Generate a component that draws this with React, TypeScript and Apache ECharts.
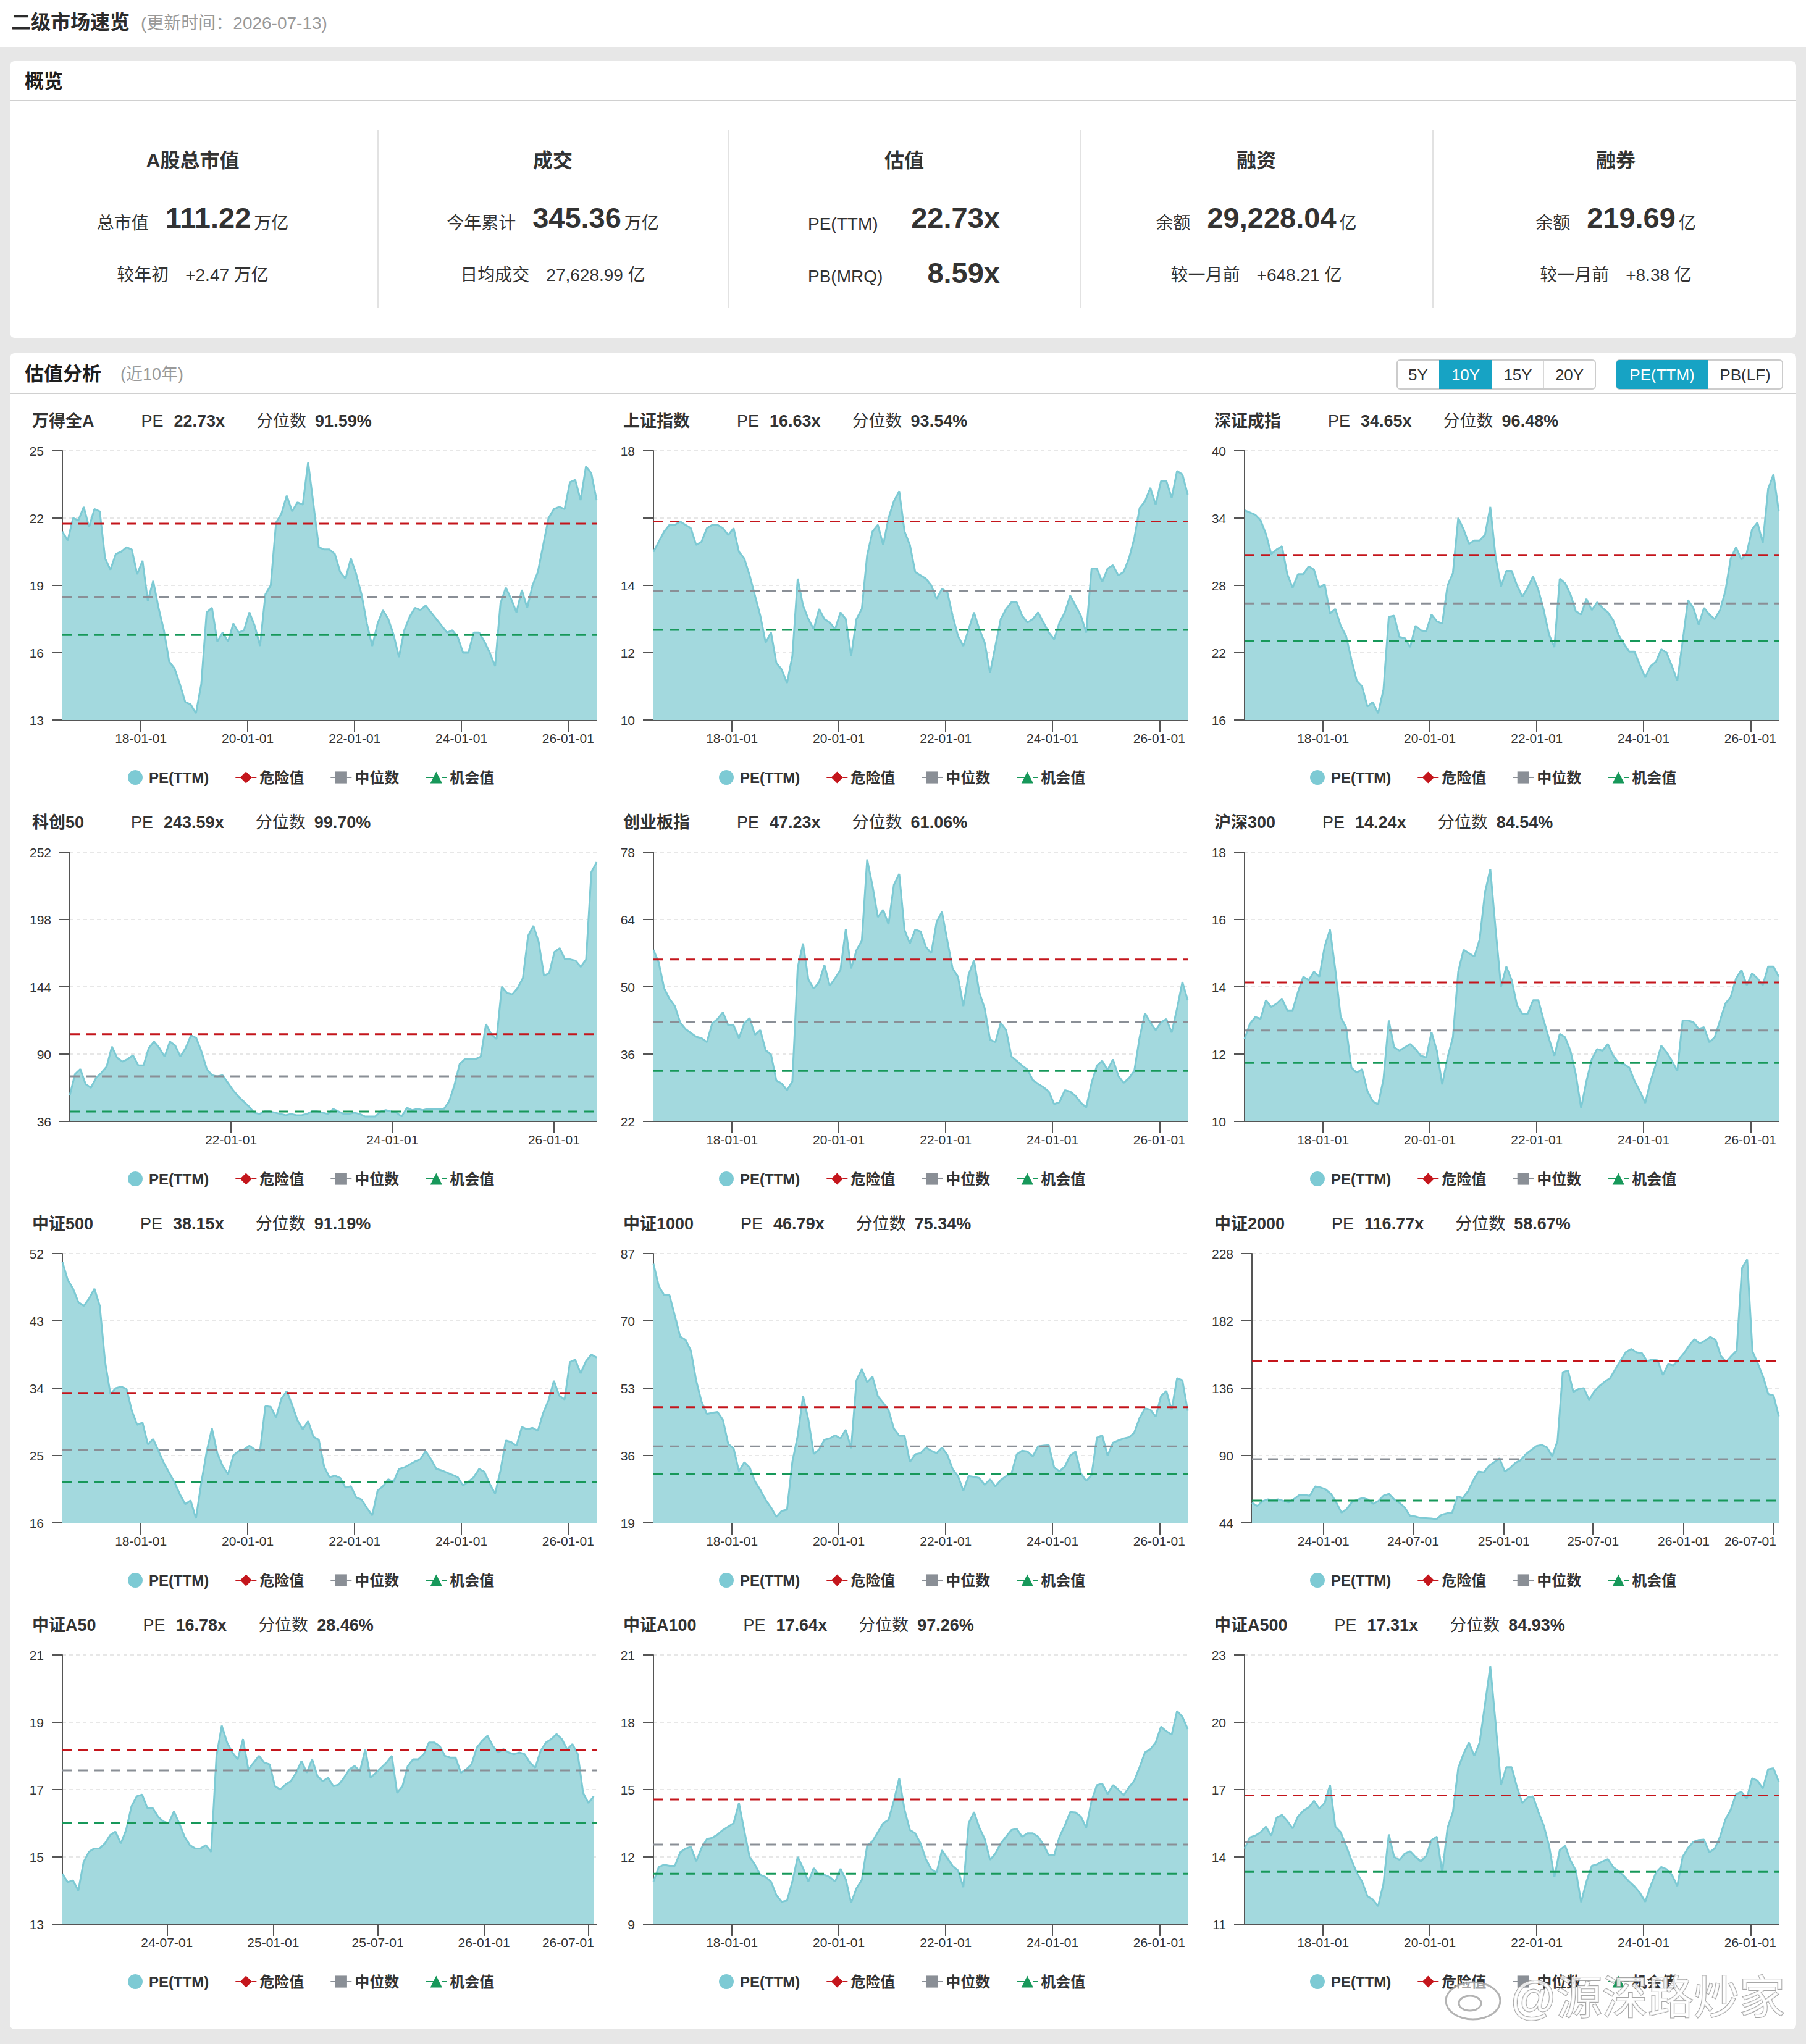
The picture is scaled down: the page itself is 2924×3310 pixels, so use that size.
import React, { useEffect, useRef } from 'react';
import * as echarts from 'echarts';

const W = 2924;
const H = 3310;
const FF = "'Liberation Sans', Arial, 'Noto Sans CJK SC', sans-serif";
const TEXT = '#333';
const TEAL = '#17a3c4';
const LINE_C = '#7dcad4';
const FILL_C = '#a3d9de';
const RED = '#c4161c';
const GRAY = '#8a8f96';
const GREEN = '#17985a';

// ---------- overview data ----------
const ovTitles = ['A股总市值', '成交', '估值', '融资', '融券'];
const ovLabels = ['总市值', '今年累计', '', '余额', '余额'];
const ovValues = ['111.22', '345.36', '', '29,228.04', '219.69'];
const ovUnits = ['万亿', '万亿', '', '亿', '亿'];
const ovSubLabels = ['较年初', '日均成交', '', '较一月前', '较一月前'];
const ovSubValues = ['+2.47 万亿', '27,628.99 亿', '', '+648.21 亿', '+8.38 亿'];
const valLabels = ['PE(TTM)', 'PB(MRQ)'];
const valValues = ['22.73x', '8.59x'];

// ---------- panels ----------
const panelNames = ['万得全A', '上证指数', '深证成指', '科创50', '创业板指', '沪深300', '中证500', '中证1000', '中证2000', '中证A50', '中证A100', '中证A500'];
const panelPE = ['22.73x', '16.63x', '34.65x', '243.59x', '47.23x', '14.24x', '38.15x', '46.79x', '116.77x', '16.78x', '17.64x', '17.31x'];
const panelPct = ['91.59%', '93.54%', '96.48%', '99.70%', '61.06%', '84.54%', '91.19%', '75.34%', '58.67%', '28.46%', '97.26%', '84.93%'];
const yMins = [13, 10, 16, 36, 22, 10, 16, 19, 44, 13, 9, 11];
const yMaxs = [25, 18, 40, 252, 78, 18, 52, 87, 228, 21, 21, 23];
const ySteps = [3, 2, 6, 54, 14, 2, 9, 17, 46, 2, 3, 3];
const dangerLines = [21.75, 15.9, 30.71, 106.0, 55.67, 14.13, 33.37, 48.2, 154.4, 18.17, 14.56, 16.74];
const medianLines = [18.49, 13.83, 26.39, 72.2, 42.65, 12.7, 25.75, 38.3, 87.5, 17.57, 12.55, 14.65];
const chanceLines = [16.79, 12.68, 23.02, 43.9, 32.5, 11.74, 21.5, 31.4, 59.2, 16.02, 11.25, 13.33];
const startDates = ['2016-07-13', '2016-07-13', '2016-07-13', '2020-01-02', '2016-07-13', '2016-07-13', '2016-07-13', '2016-07-13', '2023-08-09', '2024-01-02', '2016-07-13', '2016-07-13'];
const endDates = ['2026-07-13', '2026-07-13', '2026-07-13', '2026-07-13', '2026-07-13', '2026-07-13', '2026-07-13', '2026-07-13', '2026-07-13', '2026-07-10', '2026-07-13', '2026-07-13'];
const axisEndDates = ['2026-07-13', '2026-07-13', '2026-07-13', '2026-07-13', '2026-07-13', '2026-07-13', '2026-07-13', '2026-07-13', '2026-07-13', '2026-07-15', '2026-07-13', '2026-07-13'];
const ticks10 = ['2018-01-01', '2020-01-01', '2022-01-01', '2024-01-01', '2026-01-01'];
const ticksKc = ['2022-01-01', '2024-01-01', '2026-01-01'];
const ticks2000 = ['2024-01-01', '2024-07-01', '2025-01-01', '2025-07-01', '2026-01-01', '2026-07-01'];
const ticksA50 = ['2024-07-01', '2025-01-01', '2025-07-01', '2026-01-01', '2026-07-01'];
const tickSets = [ticks10, ticks10, ticks10, ticksKc, ticks10, ticks10, ticks10, ticks10, ticks2000, ticksA50, ticks10, ticks10];

const pe_wdqa = [21.4, 21.0, 22.0, 21.9, 22.5, 21.6, 22.4, 22.3, 20.2, 19.7,
  20.4, 20.5, 20.7, 20.6, 19.5, 20.1, 18.3, 19.2, 18.0, 17.0,
  15.6, 15.3, 14.6, 13.8, 13.7, 13.3, 14.6, 17.8, 18.0, 16.5,
  16.9, 16.5, 17.3, 16.9, 17.0, 17.8, 17.2, 16.3, 18.6, 19.0,
  21.8, 22.2, 23.0, 22.3, 22.7, 22.6, 24.5, 22.6, 20.7, 20.6,
  20.6, 20.4, 19.6, 19.3, 20.2, 19.5, 18.6, 17.3, 16.3, 17.3,
  17.9, 17.5, 16.8, 15.8, 17.0, 17.6, 18.0, 17.9, 18.1, 17.8,
  17.5, 17.2, 16.9, 17.0, 16.7, 16.0, 16.0, 16.9, 16.9, 16.5,
  16.0, 15.4, 18.2, 18.9, 18.4, 17.8, 18.8, 18.0, 19.0, 19.6,
  20.8, 22.0, 22.4, 22.5, 22.4, 23.6, 23.7, 22.8, 24.3, 24.0,
  22.8];
const pe_szzs = [15.0, 15.3, 15.6, 15.8, 15.8, 15.9, 15.8, 15.7, 15.2, 15.3,
  15.7, 15.8, 15.8, 15.7, 15.5, 15.7, 15.0, 14.8, 14.3, 13.7,
  13.1, 12.3, 12.6, 11.7, 11.5, 11.1, 11.9, 14.2, 13.4, 13.0,
  12.7, 13.3, 13.0, 12.9, 12.7, 13.2, 13.0, 11.9, 13.0, 13.3,
  14.9, 15.6, 15.8, 15.2, 16.0, 16.5, 16.8, 15.6, 15.2, 14.4,
  14.3, 14.2, 14.0, 13.6, 13.9, 13.8, 13.1, 12.5, 12.2, 12.7,
  13.2, 12.7, 12.3, 11.4, 12.2, 13.0, 13.3, 13.5, 13.5, 13.1,
  12.9, 13.0, 13.2, 12.9, 12.6, 12.4, 12.9, 13.2, 13.7, 13.4,
  13.1, 12.6, 14.5, 14.5, 14.1, 14.5, 14.6, 14.3, 14.4, 14.8,
  15.4, 16.3, 16.5, 16.9, 16.4, 17.1, 17.1, 16.6, 17.4, 17.3,
  16.7];
const pe_szcz = [34.7, 34.5, 34.3, 33.8, 32.6, 30.8, 31.2, 31.5, 29.0, 27.8,
  29.0, 29.0, 29.7, 29.4, 27.8, 28.1, 25.5, 25.9, 24.4, 23.5,
  21.4, 19.5, 19.0, 17.2, 17.6, 16.6, 18.7, 25.2, 25.3, 23.4,
  23.3, 22.5, 24.4, 24.0, 23.9, 25.4, 24.8, 24.6, 28.0, 29.1,
  34.0, 33.0, 31.7, 32.0, 32.0, 32.5, 35.0, 30.5, 27.9, 29.3,
  29.3, 28.0, 27.0, 27.8, 28.8, 27.6, 25.8, 23.6, 22.5, 28.6,
  28.2, 27.2, 25.7, 25.4, 26.8, 25.8, 26.5, 26.0, 25.6, 24.9,
  23.6, 22.8, 22.1, 22.1, 20.9, 19.8, 20.8, 21.2, 22.3, 22.0,
  20.8, 19.5, 23.0, 26.7, 26.0, 24.5, 26.0, 25.4, 25.0, 25.8,
  27.5, 30.4, 31.4, 30.3, 30.9, 33.0, 33.6, 31.8, 36.6, 37.9,
  34.6];
const pe_kc50 = [57, 74, 78, 66, 63, 71, 75, 80, 96, 87,
  84, 86, 89, 81, 81, 95, 100, 95, 88, 100,
  97, 88, 95, 105, 103, 92, 78, 73, 72, 73,
  67, 61, 56, 52, 48, 43, 42, 44, 44, 43,
  42, 41, 42, 41, 41, 42, 44, 44, 43, 42,
  46, 44, 42, 42, 43, 42, 40, 40, 40, 44,
  45, 44, 43, 40, 47, 45, 46, 45, 46, 46,
  46, 46, 52, 65, 82, 86, 86, 86, 88, 114,
  106, 102, 144, 139, 138, 143, 151, 185, 193, 180,
  153, 155, 172, 175, 166, 166, 165, 160, 166, 236,
  244];
const pe_cybz = [57.7, 55.0, 49.7, 47.5, 46.0, 42.6, 41.2, 40.4, 39.6, 39.3,
  38.5, 42.4, 43.3, 44.7, 42.0, 42.0, 39.3, 42.4, 43.5, 40.0,
  41.0, 36.8, 35.9, 30.5, 29.9, 28.5, 30.3, 54.0, 59.0, 51.5,
  49.6, 51.0, 54.5, 50.2, 51.8, 53.5, 62.0, 53.8, 57.6, 59.6,
  76.5, 71.0, 64.5, 66.0, 63.0, 71.2, 73.5, 61.8, 59.0, 61.9,
  61.5, 58.3, 57.0, 63.5, 65.6, 59.6, 53.8, 52.1, 46.0, 52.6,
  55.5, 48.8, 45.5, 39.0, 38.5, 42.5, 41.0, 35.5, 34.6, 33.6,
  32.8, 30.6, 29.8, 29.1, 28.2, 25.6, 26.0, 28.5, 28.2, 27.3,
  25.9, 24.9, 30.0, 33.6, 34.6, 32.7, 34.9, 31.5, 30.0, 31.0,
  32.5, 39.5, 44.5, 42.6, 41.0, 42.6, 43.3, 40.5, 45.5, 51.0,
  47.2];
const pe_hs300 = [12.45, 12.9, 13.1, 13.05, 13.6, 13.4, 13.5, 13.65, 13.3, 13.3,
  13.85, 14.3, 14.2, 14.45, 14.3, 15.2, 15.7, 14.5, 13.1, 12.8,
  11.6, 11.45, 11.55, 10.9, 10.6, 10.5, 11.25, 13.0, 12.2, 12.1,
  12.2, 12.3, 12.15, 11.95, 11.9, 12.65, 12.1, 11.1, 11.9, 12.5,
  14.45, 15.1, 15.0, 14.9, 15.4, 16.8, 17.5, 15.7, 14.0, 14.6,
  14.2, 13.45, 13.2, 13.2, 13.6, 13.6, 13.0, 12.45, 11.95, 12.6,
  12.5, 12.1, 11.4, 10.4, 11.2, 11.85, 12.15, 12.1, 12.3, 11.95,
  11.75, 11.7, 11.6, 11.2, 10.9, 10.55, 11.2, 11.7, 12.25, 12.05,
  11.8, 11.5, 13.0, 13.0, 12.95, 12.75, 12.8, 12.35, 12.5, 13.0,
  13.5, 13.7, 14.25, 14.5, 14.05, 14.4, 14.25, 14.05, 14.6, 14.6,
  14.3];
const pe_zz500 = [50.9, 48.5, 47.3, 45.5, 45.0, 46.0, 47.3, 45.0, 37.5, 33.2,
  34.0, 34.2, 33.9, 31.0, 29.1, 29.4, 26.5, 27.2, 25.6, 24.0,
  22.7, 21.4, 19.8, 18.5, 19.0, 16.6, 21.3, 25.5, 28.6, 25.3,
  23.6, 22.5, 25.0, 25.6, 25.8, 26.3, 25.8, 25.6, 31.6, 31.5,
  30.1, 32.6, 33.6, 31.8, 29.7, 28.5, 29.6, 27.5, 27.1, 23.5,
  22.1, 22.3, 22.0, 20.7, 20.9, 19.4, 19.1, 18.0, 17.0, 20.3,
  20.9, 21.8, 21.5, 23.2, 23.4, 23.8, 24.2, 24.5, 25.6, 24.5,
  23.2, 23.0, 22.7, 22.4, 22.1, 21.0, 21.5, 22.1, 23.2, 22.8,
  21.2, 19.9, 23.0, 27.0, 26.8, 26.3, 28.8, 28.5, 28.7, 28.3,
  30.7, 32.4, 35.0, 33.0, 32.5, 37.5, 37.8, 36.0, 37.6, 38.5,
  38.1];
const pe_zz1000 = [84.4, 78.8, 76.5, 76.5, 71.3, 66.0, 65.2, 62.5, 54.9, 49.6,
  46.5, 46.8, 47.0, 45.0, 38.9, 37.8, 32.0, 34.3, 33.0, 29.5,
  27.3, 24.8, 22.9, 20.5, 22.0, 22.3, 34.4, 41.0, 51.0, 45.0,
  36.4, 37.5, 40.0, 40.3, 41.1, 40.3, 42.5, 37.8, 55.0, 57.8,
  54.5, 55.9, 51.0, 49.3, 47.5, 42.8, 41.0, 41.0, 34.4, 36.3,
  36.6, 38.0, 37.2, 36.6, 38.0, 36.2, 32.6, 30.8, 27.1, 30.8,
  30.6, 30.3, 28.6, 30.0, 28.2, 29.8, 30.8, 31.4, 36.3, 37.2,
  37.0, 35.8, 38.3, 38.5, 38.6, 33.0, 32.0, 33.2, 36.0, 37.0,
  31.5, 29.6, 31.0, 40.5, 41.1, 36.0, 39.2, 39.8, 40.3, 40.6,
  41.8, 45.5, 47.9, 47.6, 45.8, 51.0, 52.3, 47.5, 55.5, 55.0,
  47.3];
const pe_zz2000 = [57.7, 55.5, 58.8, 60.0, 59.5, 60.0, 59.0, 58.0, 60.3, 63.0,
  63.0, 62.5, 68.9, 68.2, 66.8, 63.8, 58.0, 50.9, 53.5, 58.3,
  59.8, 61.0, 60.0, 57.0, 59.0, 62.6, 63.8, 60.0, 57.7, 54.5,
  48.8, 48.3, 47.3, 47.2, 47.0, 46.4, 49.5, 50.5, 51.0, 62.0,
  61.0, 65.5, 73.0, 79.0, 78.5, 83.0, 85.5, 88.0, 79.0, 81.5,
  85.0, 86.8, 91.0, 93.7, 96.5, 97.2, 95.5, 89.5, 100.0, 147.0,
  148.0, 133.4, 135.5, 136.0, 128.0, 134.0, 137.6, 140.5, 143.0, 149.2,
  155.0, 160.8, 162.8, 160.5, 160.0, 154.5, 155.5, 155.0, 145.0, 152.4,
  151.5, 155.6, 160.0, 165.2, 169.5, 166.5, 168.5, 171.0, 169.0, 158.0,
  154.0, 158.0, 161.7, 218.0, 224.0, 161.2, 153.0, 144.0, 132.0, 131.0,
  116.8];
const pe_a50 = [14.5, 14.25, 14.3, 14.0, 14.85, 15.15, 15.25, 15.25, 15.4, 15.65,
  15.75, 15.4, 15.8, 16.5, 16.8, 16.85, 16.45, 16.45, 16.2, 16.05,
  16.0, 16.35, 16.0, 15.6, 15.35, 15.25, 15.25, 15.35, 15.15, 18.0,
  18.9, 18.4, 18.1, 17.9, 18.5, 17.6, 17.8, 18.0, 17.8, 17.75,
  17.1, 17.0, 17.15, 17.25, 17.5, 17.85, 17.5, 17.9, 17.4, 17.25,
  17.35, 17.1, 17.15, 17.35, 17.6, 17.7, 17.55, 18.2, 17.35, 17.5,
  17.65, 17.8, 18.0, 16.9, 17.1, 17.7, 17.9, 17.9, 18.05, 18.4,
  18.4, 18.3, 18.0, 17.95, 17.95, 17.5, 17.6, 17.75, 18.25, 18.45,
  18.6, 18.3, 18.1, 18.2, 18.1, 18.05, 18.1, 18.05, 17.8, 17.65,
  18.15, 18.4, 18.5, 18.65, 18.5, 18.2, 18.35, 18.05, 16.9, 16.6,
  16.8];
const pe_a100 = [10.9, 11.55, 11.65, 11.6, 11.6, 12.2, 12.37, 12.45, 11.8, 12.4,
  12.8, 12.85, 13.0, 13.2, 13.35, 13.5, 14.4, 13.17, 12.0, 11.65,
  11.2, 11.1, 10.9, 10.3, 10.0, 10.05, 10.9, 12.0, 11.5, 10.9,
  11.5, 11.2, 11.2, 11.1, 10.9, 11.47, 11.0, 9.95, 10.6, 10.97,
  12.5, 12.7, 13.1, 13.5, 13.65, 14.5, 15.5, 14.1, 13.2, 13.05,
  12.6, 11.9, 11.45, 11.3, 12.3, 11.95, 11.6, 11.4, 10.65, 13.5,
  14.0, 13.3, 12.8, 11.87, 12.15, 12.6, 12.9, 13.2, 13.25, 12.9,
  13.05, 13.05, 12.9, 12.55, 12.07, 12.07, 12.9, 13.4, 14.0, 13.98,
  13.8, 13.3, 14.5, 15.2, 15.26, 14.8, 15.2, 15.0, 14.75, 15.1,
  15.4, 16.0, 16.66, 16.8, 17.1, 17.8, 17.6, 17.45, 18.5, 18.25,
  17.7];
const pe_a500 = [14.37, 14.87, 14.95, 15.1, 15.35, 14.95, 15.75, 15.87, 15.6, 15.27,
  15.8, 16.06, 16.2, 16.5, 16.16, 16.4, 17.2, 15.35, 15.1, 14.5,
  13.87, 13.3, 12.9, 12.25, 12.1, 11.8, 12.8, 15.0, 14.0, 13.87,
  14.15, 14.25, 14.0, 13.8, 14.05, 14.75, 14.9, 13.3, 15.3, 16.0,
  17.96, 18.6, 19.1, 18.5, 19.1, 20.8, 22.5, 19.95, 17.2, 18.0,
  18.0, 17.1, 16.4, 16.65, 16.7, 16.0, 15.4, 14.5, 13.1, 14.3,
  14.5, 13.85, 13.4, 11.98, 12.9, 13.6, 13.67, 13.8, 13.9, 13.55,
  13.37, 13.15, 12.9, 12.68, 12.4, 12.0, 12.7, 13.3, 13.55, 13.45,
  13.2, 12.7, 14.0, 14.4, 14.67, 14.75, 14.77, 14.2, 14.37, 14.9,
  15.67, 16.1, 16.8, 16.9, 16.6, 17.5, 17.4, 17.05, 17.9, 17.95,
  17.35];
const seriesValues = [pe_wdqa, pe_szzs, pe_szcz, pe_kc50, pe_cybz, pe_hs300, pe_zz500, pe_zz1000, pe_zz2000, pe_a50, pe_a100, pe_a500];

const legendNames = ['PE(TTM)', '危险值', '中位数', '机会值'];
const btnPeriods = ['5Y', '10Y', '15Y', '20Y'];
const btnMetrics = ['PE(TTM)', 'PB(LF)'];

const ts = (s: string) => Date.parse(s + 'T00:00:00Z');
const pad2 = (n: number) => String(n).padStart(2, '0');
const fmtDate = (v: number) => {
  const d = new Date(v);
  return `${pad2(d.getUTCFullYear() % 100)}-${pad2(d.getUTCMonth() + 1)}-${pad2(d.getUTCDate())}`;
};

function buildOption(): any {
  const graphic: any[] = [];
  const grid: any[] = [];
  const xAxis: any[] = [];
  const yAxis: any[] = [];
  const series: any[] = [];
  const legend: any[] = [];

  const bg = (x: number, y: number, w: number, h: number, r: number) => ({
    type: 'rect', z: -10, silent: true, shape: { x, y, width: w, height: h, r }, style: { fill: '#fff' },
  });
  const txt = (x: number, y: number, text: string, extra: any) => ({
    type: 'text', z: 10, silent: true, x, y,
    style: Object.assign({ text, fontFamily: FF, fill: TEXT, verticalAlign: 'middle', align: 'left' }, extra),
  });
  const hline = (x1: number, x2: number, y: number, color: string, w: number) => ({
    type: 'line', z: 5, silent: true, shape: { x1, y1: y, x2, y2: y }, style: { stroke: color, lineWidth: w },
  });
  const vline = (x: number, y1: number, y2: number, color: string, w: number) => ({
    type: 'line', z: 5, silent: true, shape: { x1: x, y1, x2: x, y2 }, style: { stroke: color, lineWidth: w },
  });

  // backgrounds
  graphic.push(bg(0, 0, W, 76, 0));
  graphic.push(bg(16, 99, 2892, 448, 8));
  graphic.push(bg(16, 572, 2892, 2714, 8));

  // page header
  graphic.push(txt(18, 36, '二级市场速览', { fontSize: 32, fontWeight: 'bold', fill: '#2b2b2b' }));
  graphic.push(txt(228, 37, '(更新时间：2026-07-13)', { fontSize: 28, fill: '#999' }));

  // overview card
  graphic.push(txt(40, 131, '概览', { fontSize: 31, fontWeight: 'bold', fill: '#1e1e1e' }));
  graphic.push(hline(16, 2908, 163, '#d0d0d0', 2));
  [612, 1180, 1750, 2320].forEach((x) => graphic.push(vline(x, 211, 498, '#e2e2e2', 2)));
  const ovCenters = [312, 895, 1464, 2034, 2616];
  const ovRich: any = {
    l: { fontSize: 28, fill: TEXT, fontFamily: FF, padding: [0, 27, 0, 0], verticalAlign: 'bottom' },
    v: { fontSize: 47, fontWeight: 'bold', fill: TEXT, fontFamily: FF, padding: [0, 5, 0, 0], verticalAlign: 'bottom' },
    u: { fontSize: 28, fill: TEXT, fontFamily: FF, verticalAlign: 'bottom' },
    s: { fontSize: 28, fill: TEXT, fontFamily: FF, verticalAlign: 'bottom' },
  };
  ovTitles.forEach((t, i) => {
    const cx = ovCenters[i];
    graphic.push(txt(cx, 260, t, { fontSize: 32, fontWeight: 'bold', align: 'center' }));
    if (ovValues[i]) {
      graphic.push(txt(cx, 352, `{l|${ovLabels[i]}}{v|${ovValues[i]}}{u|${ovUnits[i]}}`, { align: 'center', rich: ovRich }));
      graphic.push(txt(cx, 445, `{l|${ovSubLabels[i]}}{s|${ovSubValues[i]}}`, { align: 'center', rich: ovRich }));
    }
  });
  graphic.push(txt(1308, 362, valLabels[0], { fontSize: 28 }));
  graphic.push(txt(1619, 352, valValues[0], { fontSize: 47, fontWeight: 'bold', align: 'right' }));
  graphic.push(txt(1308, 447, valLabels[1], { fontSize: 28 }));
  graphic.push(txt(1619, 441, valValues[1], { fontSize: 47, fontWeight: 'bold', align: 'right' }));

  // valuation card header
  graphic.push(txt(40, 605, '估值分析', { fontSize: 31, fontWeight: 'bold', fill: '#1e1e1e' }));
  graphic.push(txt(195, 606, '(近10年)', { fontSize: 27, fill: '#999' }));
  graphic.push(hline(16, 2908, 637, '#d0d0d0', 2));

  // buttons
  const b1 = [2262, 2330, 2416, 2499, 2583];
  graphic.push({ type: 'rect', z: 6, silent: true, shape: { x: b1[0], y: 583, width: b1[4] - b1[0], height: 47, r: 5 }, style: { fill: '#fff', stroke: '#cccccc', lineWidth: 2 } });
  graphic.push({ type: 'rect', z: 7, silent: true, shape: { x: b1[1], y: 583, width: b1[2] - b1[1], height: 47 }, style: { fill: TEAL } });
  graphic.push({ type: 'line', z: 7, silent: true, shape: { x1: b1[3], y1: 584, x2: b1[3], y2: 629 }, style: { stroke: '#d8d8d8', lineWidth: 2 } });
  btnPeriods.forEach((b, i) => {
    graphic.push(txt((b1[i] + b1[i + 1]) / 2, 607, b, { fontSize: 26, align: 'center', fill: i === 1 ? '#fff' : TEXT }));
  });
  const b2 = [2617, 2765, 2886];
  graphic.push({ type: 'rect', z: 6, silent: true, shape: { x: b2[0], y: 583, width: b2[2] - b2[0], height: 47, r: 5 }, style: { fill: '#fff', stroke: '#cccccc', lineWidth: 2 } });
  graphic.push({ type: 'rect', z: 7, silent: true, shape: { x: b2[0], y: 583, width: b2[1] - b2[0], height: 47, r: [5, 0, 0, 5] }, style: { fill: TEAL } });
  btnMetrics.forEach((b, i) => {
    graphic.push(txt((b2[i] + b2[i + 1]) / 2, 607, b, { fontSize: 26, align: 'center', fill: i === 0 ? '#fff' : TEXT }));
  });

  const titleRich: any = {
    n: { fontSize: 27, fontWeight: 'bold', fill: TEXT, fontFamily: FF, padding: [0, 76, 0, 0] },
    a: { fontSize: 27, fill: TEXT, fontFamily: FF, padding: [0, 17, 0, 0] },
    b: { fontSize: 27, fontWeight: 'bold', fill: TEXT, fontFamily: FF, padding: [0, 51, 0, 0] },
    c: { fontSize: 27, fill: TEXT, fontFamily: FF, padding: [0, 14, 0, 0] },
    d: { fontSize: 27, fontWeight: 'bold', fill: TEXT, fontFamily: FF },
  };

  for (let k = 0; k < 12; k++) {
    const r = Math.floor(k / 3);
    const c = k % 3;
    const wide = yMaxs[k] >= 100;
    const left = 101 + 957 * c + (wide ? 12 : 0);
    const right = 966 + 957 * c;
    const top = 730 + 650 * r;
    grid.push({ left, top, width: right - left, height: 436 });

    const x0 = ts(startDates[k]);
    const x1 = ts(axisEndDates[k]);
    const xe = ts(endDates[k]);
    const ticks = tickSets[k].map(ts);
    // keep a label near the right edge inside the plot (shift it left)
    const half = 42;
    const shiftOf = (v: number) => {
      const px = left + ((v - x0) / (x1 - x0)) * (right - left);
      return Math.max(0, px + half - right + 4);
    };
    const lastShift = shiftOf(ticks[ticks.length - 1]);
    xAxis.push({
      type: 'value', gridIndex: k, min: x0, max: x1,
      axisLine: { show: true, onZero: false, lineStyle: { color: '#555', width: 2 } },
      axisTick: { show: true, length: 19, customValues: ticks, lineStyle: { color: '#555', width: 2 } },
      axisLabel: {
        customValues: ticks,
        formatter: (v: number) => (shiftOf(v) > 0 ? `{sh|${fmtDate(v)}}` : fmtDate(v)),
        rich: { sh: { fontSize: 21, color: TEXT, fontFamily: FF, padding: [0, Math.round(lastShift * 2), 0, 0] } },
        margin: 19, fontSize: 21, color: TEXT, fontFamily: FF,
      },
      splitLine: { show: false },
    });
    yAxis.push({
      type: 'value', gridIndex: k, min: yMins[k], max: yMaxs[k], interval: ySteps[k],
      axisLine: { show: true, onZero: false, lineStyle: { color: '#555', width: 2 } },
      axisTick: { show: true, length: 17, lineStyle: { color: '#555', width: 2 } },
      axisLabel: {
        margin: 30, fontSize: 21, color: TEXT, fontFamily: FF,
        formatter: k === 1 ? (v: number) => (v === 16 ? '' : String(v)) : (v: number) => String(v),
      },
      splitLine: { show: true, lineStyle: { color: '#e0e0e0', type: [6, 5], width: 1.5 } },
    });

    const vals = seriesValues[k];
    const n = vals.length;
    const data = vals.map((v, i) => [x0 + ((xe - x0) * i) / (n - 1), v]);
    series.push({
      type: 'line', name: legendNames[0], xAxisIndex: k, yAxisIndex: k, data,
      symbol: 'none', showSymbol: false, silent: true, z: 2,
      lineStyle: { color: LINE_C, width: 3 }, itemStyle: { color: LINE_C },
      areaStyle: { color: FILL_C, opacity: 1 },
    });
    const refLine = (name: string, v: number, color: string, sym: string) => ({
      type: 'line', name, xAxisIndex: k, yAxisIndex: k, data: [[x0, v], [x1, v]],
      symbol: sym, showSymbol: false, silent: true, z: 3,
      lineStyle: { color, width: 3, type: [16, 10] }, itemStyle: { color },
    });
    series.push(refLine(legendNames[1], dangerLines[k], RED, 'diamond'));
    series.push(refLine(legendNames[2], medianLines[k], GRAY, 'rect'));
    series.push(refLine(legendNames[3], chanceLines[k], GREEN, 'triangle'));

    legend.push({
      left: 207 + 957 * c, top: 1247 + 650 * r, padding: 0,
      itemWidth: 34, itemHeight: 24, itemGap: 42, selectedMode: false,
      textStyle: { fontSize: 24, fontWeight: 'bold', color: TEXT, fontFamily: FF },
      data: [{ name: legendNames[0], icon: 'circle' }, legendNames[1], legendNames[2], legendNames[3]],
    });

    graphic.push(txt(52 + 957 * c, 682 + 650 * r,
      `{n|${panelNames[k]}}{a|PE}{b|${panelPE[k]}}{c|分位数}{d|${panelPct[k]}}`, { rich: titleRich }));
  }

  // watermark
  graphic.push({ type: 'ellipse', z: 20, silent: true, shape: { cx: 2385, cy: 3240, rx: 44, ry: 30 }, style: { fill: 'rgba(255,255,255,0.55)', stroke: 'rgba(160,160,160,0.8)', lineWidth: 3 } });
  graphic.push({ type: 'ellipse', z: 20, silent: true, shape: { cx: 2380, cy: 3244, rx: 18, ry: 12 }, style: { fill: 'none', stroke: 'rgba(160,160,160,0.8)', lineWidth: 3 } });
  graphic.push(txt(2445, 3235, '@源深路炒家', { fontSize: 74, fill: 'rgba(255,255,255,0.8)', stroke: 'rgba(150,150,150,0.85)', lineWidth: 2, z: 20 }));

  return {
    animation: false,
    backgroundColor: '#e7e7e7',
    grid, xAxis, yAxis, series, legend, graphic,
  };
}

export default function App() {
  const ref = useRef<HTMLDivElement>(null);
  useEffect(() => {
    document.body.style.margin = '0';
    const chart = echarts.init(ref.current as HTMLDivElement, undefined, { renderer: 'svg', width: W, height: H });
    chart.setOption(buildOption());
    return () => chart.dispose();
  }, []);
  return (
    <div style={{ position: 'absolute', left: 0, top: 0, width: W, height: H, overflow: 'hidden' }}>
      <div ref={ref} style={{ width: W, height: H }} />
    </div>
  );
}
